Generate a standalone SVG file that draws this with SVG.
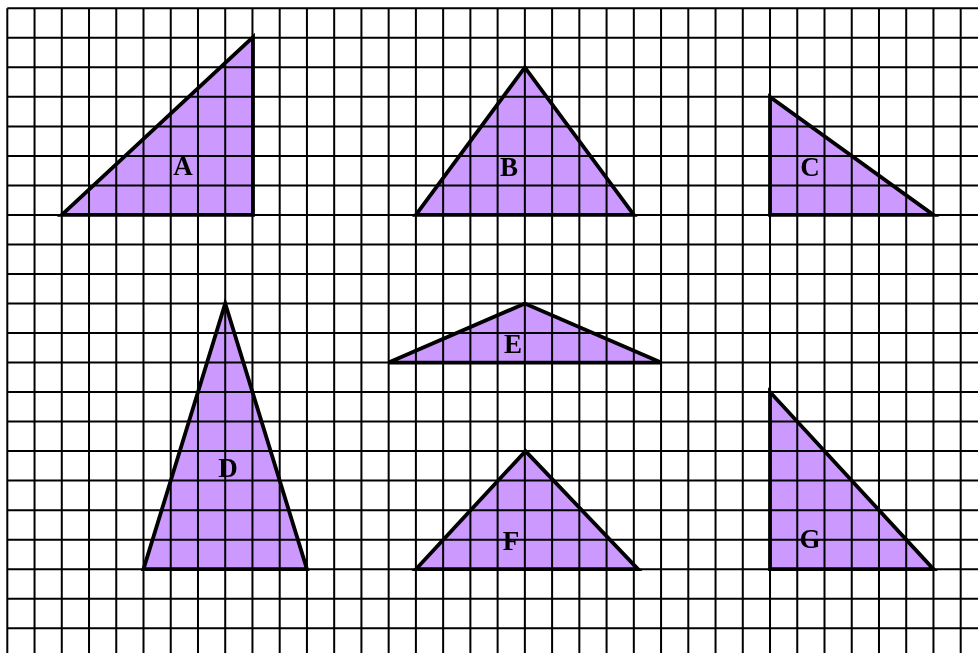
<svg xmlns="http://www.w3.org/2000/svg" width="978" height="653" viewBox="0 0 978 653">
<style>
.grid{stroke:#000;stroke-width:2;fill:none}
.tri{fill:#cc99ff;stroke:#000;stroke-width:3.8;stroke-linejoin:miter;mix-blend-mode:multiply}
.lbl{font-family:"Liberation Serif","Times New Roman",serif;font-weight:bold;font-size:27px;fill:#000;text-anchor:middle}
</style>
<rect width="978" height="653" fill="#fff"/>
<g id="grid" class="grid">
<path d="M7.3 8.3V653M34.54 8.3V653M61.78 8.3V653M89.02 8.3V653M116.26 8.3V653M143.5 8.3V653M170.74 8.3V653M197.98 8.3V653M225.22 8.3V653M252.46 8.3V653M279.7 8.3V653M306.94 8.3V653M334.18 8.3V653M361.42 8.3V653M388.66 8.3V653M415.9 8.3V653M443.14 8.3V653M470.38 8.3V653M497.62 8.3V653M524.86 8.3V653M552.1 8.3V653M579.34 8.3V653M606.58 8.3V653M633.82 8.3V653M661.06 8.3V653M688.3 8.3V653M715.54 8.3V653M742.78 8.3V653M770.02 8.3V653M797.26 8.3V653M824.5 8.3V653M851.74 8.3V653M878.98 8.3V653M906.22 8.3V653M933.46 8.3V653M960.7 8.3V653"/>
<path d="M7.3 8.3H978M7.3 37.82H978M7.3 67.34H978M7.3 96.86H978M7.3 126.38H978M7.3 155.9H978M7.3 185.42H978M7.3 214.94H978M7.3 244.46H978M7.3 273.98H978M7.3 303.5H978M7.3 333.02H978M7.3 362.54H978M7.3 392.06H978M7.3 421.58H978M7.3 451.1H978M7.3 480.62H978M7.3 510.14H978M7.3 539.66H978M7.3 569.18H978M7.3 598.7H978M7.3 628.22H978"/>
</g>
<g id="connectors"></g>
<g id="A"><polygon class="tri" points="61.78,214.94 253,37 253,214.94"/><text class="lbl" x="183" y="175">A</text></g>
<g id="B"><polygon class="tri" points="415.9,214.94 524.86,67.34 633.82,214.94"/><text class="lbl" x="509" y="176">B</text></g>
<g id="C"><polygon class="tri" points="770.02,96.86 770.02,214.94 933.46,214.94"/><text class="lbl" x="810" y="176">C</text></g>
<g id="D"><polygon class="tri" points="143.5,569.18 225.22,303.5 306.94,569.18"/><text class="lbl" x="228" y="477">D</text></g>
<g id="E"><polygon class="tri" points="388.66,362.54 524.86,303.5 661.06,362.54"/><text class="lbl" x="513" y="353">E</text></g>
<g id="F"><polygon class="tri" points="415.9,569.18 525.5,451.1 638,569.18"/><text class="lbl" x="511" y="550">F</text></g>
<g id="G"><polygon class="tri" points="770.02,392.06 770.02,569.18 933.46,569.18"/><text class="lbl" x="810" y="548">G</text></g>
</svg>
